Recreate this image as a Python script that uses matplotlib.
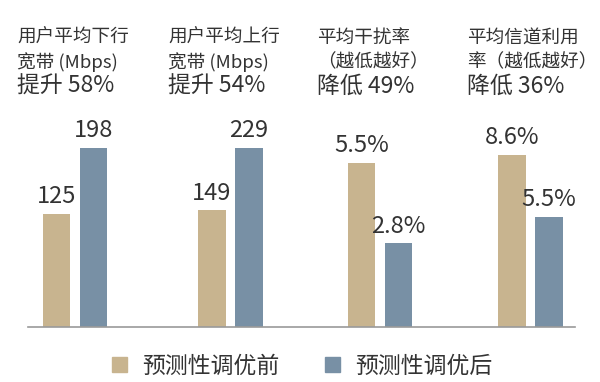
import matplotlib
matplotlib.use("Agg")
import matplotlib.pyplot as plt
from matplotlib.patches import Patch
from matplotlib.lines import Line2D

plt.rcParams['font.family'] = ['Noto Sans CJK SC', 'DejaVu Sans']

# data
titles = [
    ["用户平均下行", "宽带 (Mbps)", "提升 58%"],
    ["用户平均上行", "宽带 (Mbps)", "提升 54%"],
    ["平均干扰率", "（越低越好）", "降低 49%"],
    ["平均信道利用", "率（越低越好）", "降低 36%"],
]
before = [125, 149, 5.5, 8.6]
after = [198, 229, 2.8, 5.5]
value_fmt = ["{:g}", "{:g}", "{:g}%", "{:g}%"]
legend_labels = ["预测性调优前", "预测性调优后"]

c_before = "#c8b48f"
c_after = "#7890a5"
txt = "#333333"

W, H = 600, 382
fig = plt.figure(figsize=(W / 100, H / 100), dpi=100)

# layout in pixels
base_y = 327
top_y = 100
panel_left = [19.5, 175, 324.5, 475]
ytop = [251, 290, 7.61, 11.35]
title_x = [17, 168, 317, 467]

for i in range(4):
    ax = fig.add_axes([panel_left[i] / W, 1 - base_y / H, 148 / W, (base_y - top_y) / H])
    bars = ax.bar([0, 1], [before[i], after[i]], width=0.73, color=[c_before, c_after])
    ax.set_xlim(-1, 3)
    ax.set_ylim(0, ytop[i])
    ax.axis('off')
    for b, v in zip(bars, [before[i], after[i]]):
        ax.annotate(value_fmt[i].format(v), (b.get_x() + b.get_width() / 2, v),
                    xytext=(0, 4), textcoords='offset points',
                    ha='center', va='bottom', fontsize=17, color=txt, fontweight='light')
    t = titles[i]
    fig.text(title_x[i] / W, 1 - 38 / H, t[0], fontsize=13.4, color=txt, va='center', ha='left', fontweight='light')
    fig.text(title_x[i] / W, 1 - 62 / H, t[1], fontsize=13.4, color=txt, va='center', ha='left', fontweight='light')
    fig.text(title_x[i] / W, 1 - 86 / H, t[2], fontsize=16.5, color=txt, va='center', ha='left', fontweight='light')

# baseline
fig.add_artist(Line2D([28 / W, 575 / W], [1 - base_y / H] * 2, color="#9a9a9a", lw=1.2))

handles = [Patch(color=c_before), Patch(color=c_after)]
fig.legend(handles, legend_labels, loc='center', bbox_to_anchor=(302 / W, 1 - 366 / H),
           ncol=2, frameon=False, handlelength=0.65, handleheight=0.65,
           handletextpad=0.65, columnspacing=2.0, labelcolor=txt,
           prop={'size': 16.5, 'weight': 'light'})

fig.savefig("out.png", dpi=100)
